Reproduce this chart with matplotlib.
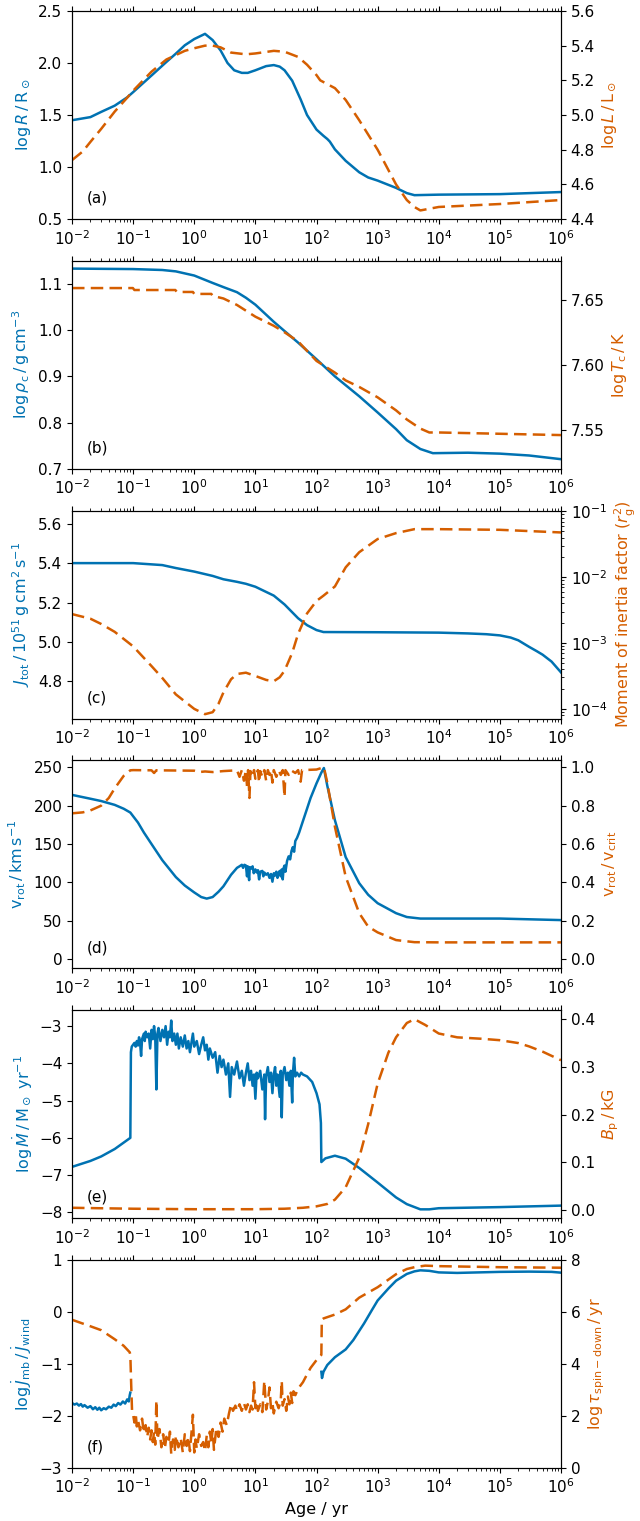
import numpy as np
import matplotlib.pyplot as plt

plt.rcParams['font.size'] = 11
plt.rcParams['axes.labelsize'] = 11.5

BLUE = '#0072B2'
ORANGE = '#D55E00'

# (a) radius and luminosity
age_R = [0.01, 0.02, 0.03, 0.05, 0.08, 0.1, 0.2, 0.35, 0.5, 0.7, 1.0, 1.5, 2.0, 2.7, 3.5,
         4.5, 6, 7.5, 10, 15, 20, 25, 30, 40, 55, 70, 100, 130, 150, 165, 200, 300, 500,
         700, 1e3, 2e3, 3e3, 4e3, 1e4, 1e5, 1e6]
log_R = [1.45, 1.48, 1.53, 1.59, 1.67, 1.72, 1.88, 2.01, 2.09, 2.17, 2.23, 2.28, 2.22, 2.12, 2.00,
         1.93, 1.905, 1.905, 1.93, 1.97, 1.98, 1.965, 1.93, 1.83, 1.65, 1.50, 1.36, 1.30, 1.27, 1.245, 1.17, 1.06, 0.95,
         0.90, 0.87, 0.80, 0.75, 0.73, 0.735, 0.74, 0.76]
age_L = [0.01, 0.015, 0.02, 0.03, 0.05, 0.08, 0.1, 0.2, 0.35, 0.7, 1.0, 1.5, 2.0, 2.7, 4, 7, 10,
         20, 30, 50, 70, 100, 115, 200, 300, 500, 1e3, 2e3, 3e3, 4e3, 5e3, 1e4, 1e5, 1e6]
log_L = [4.74, 4.79, 4.845, 4.92, 5.02, 5.10, 5.14, 5.25, 5.32, 5.37, 5.385, 5.40, 5.40, 5.39, 5.36, 5.35, 5.355,
         5.37, 5.365, 5.335, 5.29, 5.23, 5.20, 5.155, 5.087, 4.97, 4.80, 4.60, 4.51, 4.47, 4.45, 4.47, 4.487, 4.51]

# (b) central density and temperature
age_rho = [0.01, 0.1, 0.3, 0.5, 1, 2, 3, 5, 7, 10, 20, 30, 50, 100, 200, 500, 1e3, 2e3, 3e3,
           5e3, 8e3, 3e4, 1e5, 3e5, 1e6]
log_rho = [1.133, 1.132, 1.130, 1.127, 1.118, 1.102, 1.093, 1.082, 1.07, 1.055, 1.018, 0.998, 0.973, 0.937,
           0.90, 0.857, 0.822, 0.786, 0.762, 0.743, 0.734, 0.735, 0.733, 0.729, 0.721]
age_Tc = [0.01, 0.099, 0.105, 0.49, 0.52, 0.95, 1.0, 1.9, 2.0, 3, 5, 10, 20, 30, 50, 100, 200,
          300, 500, 1e3, 2e3, 3e3, 5e3, 7e3, 1e4, 1e5, 1e6]
log_Tc = [7.659, 7.659, 7.6575, 7.6575, 7.656, 7.656, 7.6545, 7.6545, 7.653, 7.651, 7.646, 7.637, 7.630,
          7.625, 7.618, 7.603, 7.594, 7.588, 7.583, 7.575, 7.565, 7.558, 7.551, 7.548, 7.548, 7.547, 7.546]

# (c) total angular momentum and moment of inertia factor
age_J = [0.01, 0.1, 0.3, 0.5, 1, 2, 3, 5, 7, 10, 20, 30, 50, 70, 100, 130, 1e3, 1e4, 3e4, 6e4,
         1e5, 1.5e5, 2e5, 3e5, 4e5, 5e5, 7e5, 1e6]
J_tot = [5.40, 5.40, 5.39, 5.375, 5.357, 5.335, 5.318, 5.305, 5.295, 5.28, 5.235, 5.19, 5.12, 5.085,
         5.06, 5.05, 5.049, 5.047, 5.043, 5.039, 5.033, 5.022, 5.008, 4.975, 4.953, 4.935, 4.90, 4.845]
age_rg = [0.01, 0.02, 0.03, 0.05, 0.1, 0.2, 0.3, 0.5, 1, 1.5, 2, 2.5, 3, 4, 5, 7, 10, 15, 20,
          25, 30, 40, 50, 70, 100, 130, 200, 300, 500, 1e3, 2e3, 4e3, 1e4, 1e5, 1e6]
log_rg2 = [-2.56, -2.63, -2.71, -2.83, -3.05, -3.35, -3.53, -3.78, -4.0, -4.08, -4.05, -3.92, -3.75,
           -3.55, -3.47, -3.45, -3.50, -3.56, -3.58, -3.52, -3.42, -3.15, -2.86, -2.55, -2.36, -2.28,
           -2.14, -1.85, -1.62, -1.42, -1.33, -1.27, -1.27, -1.28, -1.32]

# (d) surface rotation velocity and critical fraction
age_v = [0.01, 0.02, 0.03, 0.05, 0.07, 0.09, 0.12, 0.15, 0.2, 0.3, 0.5, 0.7, 1.0, 1.3, 1.6, 2.0,
         2.5, 3.0, 4.0, 5.0, 5.5, 6, 6.3, 6.6, 7, 7.3, 7.5, 7.9, 8.1, 8.5, 9, 9.4, 10, 10.5, 11,
         11.5, 12, 13, 13.5, 14, 15, 16, 17, 18, 19, 20, 21, 22, 23, 24, 25, 26, 27, 28, 29, 30,
         31, 33, 35, 37, 39, 41, 43, 45, 48, 52, 60, 70, 80, 100, 120, 132, 150, 200, 300, 500,
         700, 1e3, 2e3, 3e3, 5e3, 1e4, 1e5, 1e6]
v_rot = [214, 209, 206, 201, 196, 191, 178, 165, 150, 129, 107, 96, 87, 81, 79, 81,
         88, 95, 110, 119, 121, 123, 119, 123, 122, 108, 121, 103, 120, 118, 121, 112, 117, 113, 116,
         104, 114, 115, 108, 113, 110, 112, 106, 111, 101, 112, 109, 114, 106, 113, 115, 108, 117, 104, 119, 122,
         114, 128, 134, 130, 141, 146, 140, 154, 158, 165, 180, 196, 210, 229, 243, 249, 226, 181, 133, 99,
         84, 73, 60, 55, 53, 53, 53, 51]
age_vc = [0.01, 0.015, 0.02, 0.03, 0.04, 0.05, 0.07, 0.09, 0.1, 0.2, 0.22, 0.24, 1.0, 1.2, 1.5,
          2.0, 3.0, 5.0, 5.5, 6, 6.5, 7, 7.3, 7.6, 8, 8.3, 9, 9.5, 10, 11, 11.5, 12, 13, 14, 15,
          16, 17, 18, 19, 20, 22, 24, 26, 28, 30, 31, 35, 38, 45, 50, 55, 58, 100, 132, 150, 200,
          300, 500, 700, 1e3, 2e3, 4e3, 1e4, 1e6]
v_frac = [0.76, 0.765, 0.775, 0.80, 0.84, 0.89, 0.955, 0.984, 0.985, 0.984, 0.97, 0.984, 0.982, 0.975, 0.978,
          0.975, 0.98, 0.984, 0.95, 0.985, 0.93, 0.985, 0.90, 0.985, 0.84, 0.98, 0.95, 0.985, 0.94, 0.985, 0.92,
          0.98, 0.95, 0.985, 0.93, 0.985, 0.96, 0.985, 0.92, 0.985, 0.95, 0.985, 0.96, 0.985, 0.845, 0.985, 0.96,
          0.985, 0.97, 0.985, 0.925, 0.985, 0.988, 1.0, 0.92, 0.69, 0.43, 0.24, 0.17, 0.14, 0.10, 0.089, 0.088, 0.088]

# (e) mass-loss rate and polar field strength
age_mdot = [0.01, 0.02, 0.03, 0.05, 0.07, 0.09, 0.092, 0.095, 0.10, 0.105, 0.11, 0.115, 0.12, 0.125,
            0.13, 0.135, 0.14, 0.15, 0.155, 0.16, 0.17, 0.18, 0.19, 0.2, 0.21, 0.22, 0.23, 0.24, 0.25,
            0.26, 0.28, 0.3, 0.32, 0.34, 0.36, 0.38, 0.4, 0.42, 0.44, 0.47, 0.5, 0.53, 0.56, 0.6, 0.65,
            0.7, 0.75, 0.8, 0.85, 0.9, 0.95, 1.0, 1.1, 1.2, 1.3, 1.4, 1.5, 1.6, 1.7, 1.8, 2.0, 2.2, 2.4,
            2.6, 2.8, 3.0, 3.3, 3.6, 3.85, 4.1, 4.5, 5.0, 5.5, 6.0, 6.5, 7, 7.5, 8, 8.5, 9, 9.5, 10,
            10.5, 11, 12, 13, 14, 14.4, 15, 16, 17, 18, 19, 20, 21, 22, 23, 25, 26, 27, 28, 30, 32, 34,
            36, 38, 40, 41, 43, 45, 48, 52, 56, 60, 70, 85, 100, 112, 118, 120, 140, 200, 300, 500,
            1e3, 2e3, 3e3, 5e3, 7e3, 1e4, 1e5, 1e6]
log_mdot = [-6.78, -6.62, -6.50, -6.30, -6.13, -6.00, -3.70, -3.55, -3.50, -3.45, -3.55, -3.40, -3.52, -3.30,
            -3.45, -3.80, -3.35, -3.20, -3.40, -3.15, -3.30, -3.20, -3.60, -3.10, -3.35, -3.00, -3.30, -4.70, -3.20,
            -3.05, -3.40, -3.10, -3.30, -3.00, -3.50, -3.15, -3.30, -2.85, -3.40, -3.20, -3.50, -3.20, -3.60, -3.30, -3.55,
            -3.25, -3.60, -3.40, -3.70, -3.45, -3.20, -3.55, -3.40, -3.75, -3.50, -3.30, -3.65, -3.50, -3.90, -3.60, -3.85, -3.70, -4.25,
            -3.80, -4.10, -3.90, -4.30, -4.00, -4.90, -4.10, -4.30, -3.95, -4.40, -4.20, -4.60, -4.25, -4.00, -4.45, -4.20, -4.60, -4.30, -4.95,
            -4.25, -4.40, -4.20, -4.70, -4.30, -5.50, -4.35, -4.10, -4.50, -4.25, -4.80, -4.30, -4.10, -4.60, -4.30, -4.90, -4.20, -5.45, -4.30, -4.10, -4.45, -4.25,
            -4.60, -4.20, -5.05, -4.30, -3.85, -4.35, -4.25, -4.35, -4.25, -4.30, -4.35, -4.50, -4.80, -5.10, -5.60, -6.65, -6.55, -6.48, -6.56, -6.81,
            -7.20, -7.60, -7.78, -7.92, -7.92, -7.89, -7.86, -7.82]
age_B = [0.01, 0.03, 0.1, 1, 10, 30, 60, 100, 150, 200, 300, 500, 700, 1e3, 1.5e3, 2e3, 3e3, 4e3,
         6e3, 1e4, 2e4, 5e4, 1e5, 2e5, 3e5, 5e5, 1e6]
B_p = [0.005, 0.004, 0.003, 0.002, 0.002, 0.003, 0.005, 0.008, 0.013, 0.022, 0.048, 0.11, 0.18, 0.265,
       0.33, 0.362, 0.392, 0.40, 0.388, 0.37, 0.362, 0.359, 0.356, 0.35, 0.343, 0.332, 0.314]

# (f) magnetic braking vs wind angular momentum loss, spin-down time
age_jr = [0.01, 0.011, 0.012, 0.013, 0.014, 0.015, 0.016, 0.018, 0.02, 0.022, 0.024, 0.026, 0.028,
          0.03, 0.033, 0.036, 0.04, 0.044, 0.048, 0.052, 0.057, 0.062, 0.068, 0.074, 0.08, 0.085,
          0.088, 0.09, 0.1, 120, 123, 130, 150, 200, 300, 400, 600, 800, 1e3, 1.5e3, 2e3, 3e3, 4e3,
          5e3, 7e3, 1e4, 2e4, 1e5, 3e5, 7e5, 1e6]
log_jratio = [-1.75, -1.78, -1.76, -1.80, -1.77, -1.82, -1.79, -1.84, -1.81, -1.87, -1.83, -1.88, -1.84,
              -1.89, -1.85, -1.87, -1.82, -1.84, -1.78, -1.81, -1.75, -1.78, -1.72, -1.76, -1.68, -1.72,
              -1.60, -1.55, np.nan, -1.15, -1.27, -1.15, -1.02, -0.87, -0.72, -0.54, -0.22, 0.03, 0.22, 0.45, 0.60, 0.73, 0.78,
              0.80, 0.79, 0.76, 0.75, 0.77, 0.775, 0.77, 0.755]
age_tau = [0.01, 0.02, 0.03, 0.05, 0.07, 0.088, 0.09, 0.093, 0.096, 0.1, 0.105, 0.11, 0.115, 0.12,
           0.13, 0.14, 0.15, 0.16, 0.17, 0.18, 0.19, 0.2, 0.21, 0.22, 0.23, 0.24, 0.25, 0.27, 0.29,
           0.31, 0.33, 0.35, 0.38, 0.4, 0.42, 0.45, 0.48, 0.5, 0.55, 0.6, 0.65, 0.7, 0.75, 0.8, 0.85,
           0.9, 0.95, 1.0, 1.05, 1.1, 1.2, 1.3, 1.4, 1.5, 1.6, 1.7, 1.8, 1.9, 2.0, 2.1, 2.3, 2.5, 2.7,
           2.9, 3.1, 3.4, 3.7, 4.0, 4.3, 4.7, 5, 5.5, 6, 6.5, 7, 7.5, 8, 8.5, 9, 9.5, 10, 10.5, 11,
           12, 13, 14, 15, 16, 17, 18, 19, 20, 22, 24, 26, 27, 28, 30, 32, 34, 36, 38, 40, 42, 45,
           50, 60, 70, 80, 100, 115, 120, 122, 130, 150, 200, 300, 500, 1e3, 2e3, 3e3, 4e3, 6e3,
           1e4, 1e5, 1e6]
log_tau = [5.70, 5.45, 5.30, 4.95, 4.70, 4.45, 4.35, 3.20, 2.20, 2.05, 1.75, 2.10, 1.60, 1.85,
           1.45, 1.90, 1.35, 1.65, 1.20, 1.55, 1.10, 1.45, 1.00, 1.40, 0.90, 2.60, 1.10, 1.50, 0.80,
           1.30, 0.75, 1.20, 0.95, 1.40, 0.55, 1.10, 0.70, 1.25, 0.80, 1.15, 0.60, 1.30, 0.85, 1.20, 0.65,
           1.35, 2.05, 0.60, 1.10, 0.75, 1.30, 0.85, 1.00, 0.65, 1.25, 0.80, 1.40, 0.95, 1.50, 0.70, 1.55, 1.20, 1.75,
           1.40, 1.90, 1.65, 2.10, 2.45, 2.20, 2.40, 2.20, 2.45, 2.20, 2.50, 2.25, 2.45, 2.15, 2.40, 2.25, 3.30, 2.30, 2.55, 2.20,
           2.45, 2.15, 3.35, 2.25, 2.55, 3.10, 2.30, 2.50, 2.10, 2.55, 2.30, 2.60, 3.35, 2.40, 2.65, 2.20, 2.75, 2.45, 2.90, 2.50, 2.95, 2.80,
           3.05, 3.30, 3.60, 3.85, 4.15, 4.30, 4.35, 5.70, 5.75, 5.80, 5.90, 6.10, 6.55, 6.95, 7.45, 7.65, 7.72, 7.78,
           7.76, 7.72, 7.70]

LW = 1.8
DASH = (5, 2.5)

fig, axes = plt.subplots(6, 1, figsize=(6.4, 15.21), dpi=100)
fig.subplots_adjust(left=0.1125, right=0.8766, top=0.9928, bottom=0.0348, hspace=0.2)


def pair(ax, tb, yb, to, yo, lab_b, lab_o, tag):
    ax.plot(tb, yb, color=BLUE, lw=LW)
    tw = ax.twinx()
    tw.plot(to, yo, color=ORANGE, lw=LW, dashes=DASH)
    ax.set_xscale('log')
    ax.set_xlim(1e-2, 1e6)
    ax.set_xticks([10.0 ** k for k in range(-2, 7)])
    ax.tick_params(axis='x', which='both', top=True)
    ax.set_ylabel(lab_b, color=BLUE)
    tw.set_ylabel(lab_o, color=ORANGE)
    ax.text(0.03, 0.1, tag, transform=ax.transAxes, va='center', ha='left')
    return tw


ax = axes[0]
tw = pair(ax, age_R, log_R, age_L, log_L,
          r'$\log R\,/\,\mathrm{R}_\odot$', r'$\log L\,/\,\mathrm{L}_\odot$', '(a)')
ax.set_ylim(0.5, 2.5)
ax.set_yticks([0.5, 1.0, 1.5, 2.0, 2.5])
tw.set_ylim(4.4, 5.6)
tw.set_yticks([4.4, 4.6, 4.8, 5.0, 5.2, 5.4, 5.6])

ax = axes[1]
tw = pair(ax, age_rho, log_rho, age_Tc, log_Tc,
          r'$\log \rho_\mathrm{c}\,/\,\mathrm{g\,cm^{-3}}$', r'$\log T_\mathrm{c}\,/\,\mathrm{K}$', '(b)')
ax.set_ylim(0.7, 1.15)
ax.set_yticks([0.7, 0.8, 0.9, 1.0, 1.1])
tw.set_ylim(7.52, 7.68)
tw.set_yticks([7.55, 7.60, 7.65])

ax = axes[2]
tw = pair(ax, age_J, J_tot, age_rg, 10.0 ** np.array(log_rg2),
          r'$J_\mathrm{tot}\,/\,10^{51}\,\mathrm{g\,cm^2\,s^{-1}}$',
          r'Moment of inertia factor ($r_\mathrm{g}^2$)', '(c)')
ax.set_ylim(4.61, 5.667)
ax.set_yticks([4.8, 5.0, 5.2, 5.4, 5.6])
tw.set_yscale('log')
tw.set_ylim(7.1e-5, 0.103)

ax = axes[3]
tw = pair(ax, age_v, v_rot, age_vc, v_frac,
          r'$\mathrm{v_{rot}}\,/\,\mathrm{km\,s^{-1}}$', r'$\mathrm{v_{rot}\,/\,v_{crit}}$', '(d)')
ax.set_ylim(-12, 259)
ax.set_yticks([0, 50, 100, 150, 200, 250])
tw.set_ylim(-12 / 250, 259 / 250)
tw.set_yticks([0.0, 0.2, 0.4, 0.6, 0.8, 1.0])

ax = axes[4]
tw = pair(ax, age_mdot, log_mdot, age_B, B_p,
          r'$\log \dot{M}\,/\,\mathrm{M_\odot\ yr^{-1}}$', r'$B_\mathrm{p}\,/\,\mathrm{kG}$', '(e)')
ax.set_ylim(-8.16, -2.57)
ax.set_yticks([-8, -7, -6, -5, -4, -3])
tw.set_ylim(-0.017, 0.419)
tw.set_yticks([0.0, 0.1, 0.2, 0.3, 0.4])

ax = axes[5]
tw = pair(ax, age_jr, log_jratio, age_tau, log_tau,
          r'$\log \dot{J}_\mathrm{mb}\,/\,\dot{J}_\mathrm{wind}$',
          r'$\log \tau_\mathrm{spin-down}\,/\,\mathrm{yr}$', '(f)')
ax.set_ylim(-3, 1)
ax.set_yticks([-3, -2, -1, 0, 1])
tw.set_ylim(0, 8)
tw.set_yticks([0, 2, 4, 6, 8])
ax.set_xlabel('Age / yr')

fig.savefig('out.png', dpi=100)
